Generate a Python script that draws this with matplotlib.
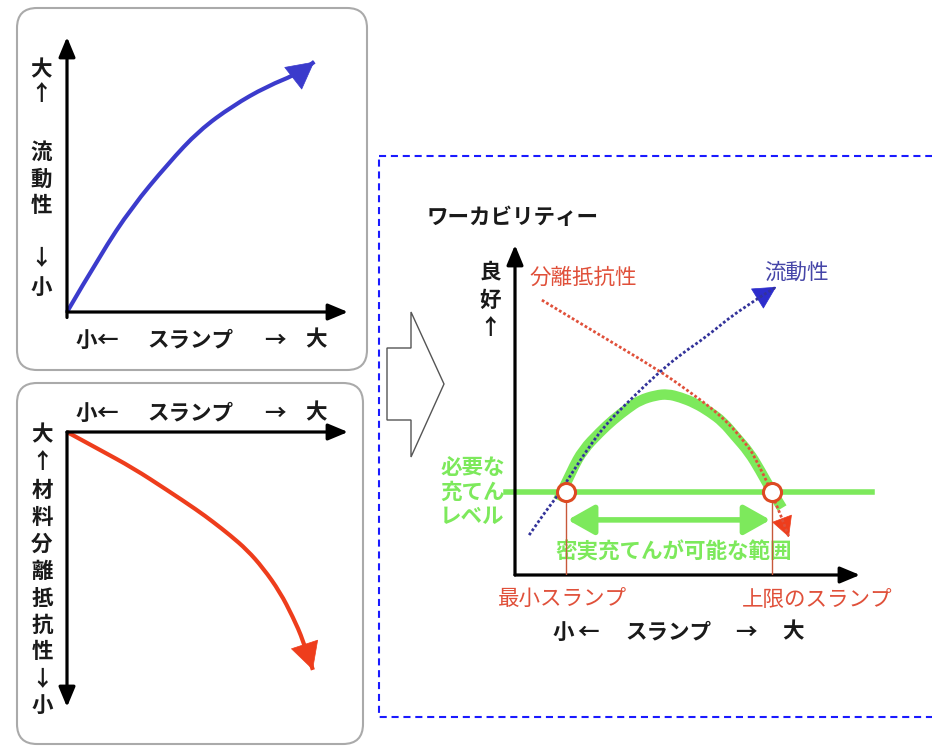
import numpy as np
import matplotlib
matplotlib.use('Agg')
import matplotlib.pyplot as plt
from matplotlib.patches import FancyBboxPatch, Polygon, Rectangle, PathPatch
from matplotlib.path import Path

plt.rcParams['font.family'] = ['Noto Sans CJK JP', 'DejaVu Sans']

# ---------------- données (unités arbitraires 0-10) ----------------
# panneau 1 : fluidité en fonction du slump
slump_fluid = [0, 1.2, 2.3, 3.6, 4.7, 5.9, 7.1, 8.3, 8.8]
fluidity = [0, 2.1, 3.8, 5.4, 6.6, 7.5, 8.2, 8.7, 9.1]

# panneau 2 : résistance à la ségrégation en fonction du slump
slump_resist = [0, 1.17, 2.35, 3.56, 4.63, 5.20, 5.80, 6.41, 6.98, 7.58, 8.04, 8.40, 8.75]
resistance = [10, 9.35, 8.69, 7.89, 7.16, 6.73, 6.25, 5.71, 5.05, 4.18, 3.27, 2.44, 1.35]

# panneau 3 : ouvrabilité
slump_work = [1.25, 1.65, 1.97, 2.46, 2.84, 3.28, 3.62, 4.09, 4.43, 4.78,
              5.22, 5.65, 6.03, 6.38, 6.78, 7.10, 7.45, 7.74]
workability = [2.27, 3.18, 3.79, 4.33, 4.70, 5.06, 5.30, 5.45, 5.48, 5.39,
               5.21, 4.94, 4.64, 4.21, 3.73, 3.18, 2.52, 2.03]
slump_fl3 = [0.41, 0.87, 1.25, 1.65, 2.09, 2.46, 2.84, 3.48, 4.09, 4.78, 5.54, 6.49, 7.57]
fluidity3 = [1.21, 1.91, 2.42, 3.09, 3.79, 4.33, 4.79, 5.45, 6.06, 6.67, 7.21, 8.03, 8.73]
slump_res3 = [0.78, 2.46, 4.06, 4.87, 6.03, 6.78, 6.99, 7.45, 7.94]
resist3 = [8.33, 7.27, 6.27, 5.70, 4.79, 3.88, 3.48, 2.52, 1.15]
niveau_requis = 2.52
slump_min = 1.48
slump_max = 7.45

# ---------------- couleurs ----------------
bleu = '#3b3bcc'
rouge = '#ee3d1c'
vert = '#7de95c'
rouge_txt = '#e0503a'
bleu_txt = '#4545a8'
noir = '#1a1a1a'

W, H = 932, 746
fig = plt.figure(figsize=(W / 100, H / 100), dpi=100)
bg = fig.add_axes([0, 0, 1, 1])
bg.set_xlim(0, W)
bg.set_ylim(H, 0)
bg.axis('off')


def axes_pixels(left, top, right, bottom):
    ax = fig.add_axes([left / W, 1 - bottom / H, (right - left) / W, (bottom - top) / H])
    ax.set_xlim(0, 10)
    ax.set_ylim(0, 10)
    ax.axis('off')
    return ax


def fleche_axe(ax, debut, fin):
    ax.annotate('', xy=fin, xytext=debut, xycoords='axes fraction',
                arrowprops=dict(arrowstyle='-|>,head_length=0.6,head_width=0.25',
                                lw=2.3, color='black', mutation_scale=20,
                                shrinkA=0, shrinkB=0))


def courbe(ax, x, y, **kw):
    # courbe lissée (béziers quadratiques) passant par les points lus
    pts = np.column_stack([x, y])
    verts = [pts[0]]
    codes = [Path.MOVETO]
    n = len(pts)
    for i in range(1, n - 1):
        fin = pts[i + 1] if i == n - 2 else (pts[i] + pts[i + 1]) / 2
        verts += [pts[i], fin]
        codes += [Path.CURVE3, Path.CURVE3]
    ax.add_patch(PathPatch(Path(verts, codes), fill=False, clip_on=False, **kw))


def pointe(ax, x, y, couleur, taille=20, hl=0.8, hw=0.4):
    # pointe de flèche seule au bout d'une courbe
    dx, dy = x[-1] - x[-2], y[-1] - y[-2]
    ax.annotate('', xy=(x[-1], y[-1]), xytext=(x[-1] - dx * 0.02, y[-1] - dy * 0.02),
                arrowprops=dict(arrowstyle=f'-|>,head_length={hl},head_width={hw}',
                                lw=0.5, color=couleur, mutation_scale=taille,
                                shrinkA=0, shrinkB=0), annotation_clip=False)


def texte(x, y, s, **kw):
    opts = dict(ha='center', va='center', fontsize=15.5, color=noir)
    opts.update(kw)
    bg.text(x, y, s, **opts)


# ---------------- cadres ----------------
for (x0, y0, x1, y1) in [(17, 8, 367, 370), (17, 383, 363, 744)]:
    bg.add_patch(FancyBboxPatch((x0, y0), x1 - x0, y1 - y0,
                                boxstyle='round,pad=0,rounding_size=20',
                                fc='white', ec='#aaaaaa', lw=1.5))

bg.add_patch(Rectangle((379, 156), 600, 561, fill=False, ec='#1a1aff', lw=1.5,
                       ls=(0, (3.4, 2.3))))

bg.add_patch(Polygon([(387, 348), (411, 348), (411, 312), (444, 384),
                      (411, 457), (411, 420), (387, 420)],
                     closed=True, fc='white', ec='#555555', lw=1))

# ---------------- panneau 1 : fluidité ----------------
ax1 = axes_pixels(67, 37, 348, 312)
fleche_axe(ax1, (0, 0), (1, 0))
fleche_axe(ax1, (0, -0.02), (0, 1))
courbe(ax1, slump_fluid, fluidity, ec=bleu, lw=3, capstyle='butt')
pointe(ax1, slump_fluid, fluidity, bleu, taille=22, hl=0.85, hw=0.45)

for y, c in zip([70, 94, 152, 179, 206, 258, 287], ['大', '↑', '流', '動', '性', '↓', '小']):
    texte(41, y, c, fontweight='bold')
for x, c in zip([86, 107, 190, 275, 316], ['小', '←', 'スランプ', '→', '大']):
    texte(x, 340, c, fontweight='bold')

# ---------------- panneau 2 : résistance à la ségrégation ----------------
ax2 = axes_pixels(67, 432, 348, 707)
fleche_axe(ax2, (0, 1), (1, 1))
fleche_axe(ax2, (0, 1), (0, 0))
courbe(ax2, slump_resist, resistance, ec=rouge, lw=3, capstyle='butt')
pointe(ax2, slump_resist, resistance, rouge, taille=22, hl=0.85, hw=0.45)

for y, c in zip([435, 461, 490, 517, 544, 571, 598, 625, 652, 679, 705],
                ['大', '↑', '材', '料', '分', '離', '抵', '抗', '性', '↓', '小']):
    texte(42, y, c, fontweight='bold')
for x, c in zip([86, 107, 190, 275, 316], ['小', '←', 'スランプ', '→', '大']):
    texte(x, 413, c, fontweight='bold')

# ---------------- panneau 3 : ouvrabilité ----------------
ax3 = axes_pixels(515, 245, 860, 575)
fleche_axe(ax3, (0, 0), (1, 0))
fleche_axe(ax3, (0, 0), (0, 1))

ax3.plot([-0.25, 10.35], [niveau_requis, niveau_requis], color=vert, lw=4, clip_on=False, zorder=2)
courbe(ax3, slump_work, workability, ec=vert, lw=7.5, capstyle='butt', zorder=2)
ax3.vlines([slump_min, slump_max], 0, niveau_requis, color='#c8583a', lw=1, zorder=3)

courbe(ax3, slump_res3, resist3, ec=rouge_txt, lw=2, ls=(0, (1, 0.8)), zorder=4)
pointe(ax3, slump_res3, resist3, rouge, taille=16, hl=0.85, hw=0.45)
courbe(ax3, slump_fl3, fluidity3, ec='#33339a', lw=2, ls=(0, (1, 0.8)), zorder=4)
pointe(ax3, slump_fl3, fluidity3, '#2d2dcc', taille=18, hl=0.85, hw=0.45)

ax3.plot([slump_min, slump_max], [niveau_requis, niveau_requis], 'o', ms=13,
         mfc='white', mec='#dd4a22', mew=2.2, zorder=5, clip_on=False)
ax3.annotate('', xy=(slump_max - 0.05, 1.67), xytext=(slump_min + 0.05, 1.67),
             arrowprops=dict(arrowstyle='<|-|>,head_length=0.8,head_width=0.45',
                             lw=4, color=vert, mutation_scale=20, shrinkA=0, shrinkB=0))

texte(427, 217, 'ワーカビリティー', ha='left', fontweight='bold')
for y, c in zip([272, 300, 327], ['良', '好', '↑']):
    texte(490, y, c, fontweight='bold')
texte(583, 278, '分離抵抗性', color=rouge_txt)
texte(796, 273, '流動性', color=bleu_txt)
for y, s in zip([467, 492, 516], ['必要な', '充てん', 'レベル']):
    texte(440, y, s, ha='left', color=vert, fontweight='bold')
texte(674, 552, '密実充てんが可能な範囲', color=vert, fontweight='bold')
texte(562, 600, '最小スランプ', color=rouge_txt)
texte(817, 600, '上限のスランプ', color=rouge_txt)
for x, c in zip([563, 588, 668, 746, 793], ['小', '←', 'スランプ', '→', '大']):
    texte(x, 632, c, fontweight='bold')

fig.savefig('out.png', dpi=100)
